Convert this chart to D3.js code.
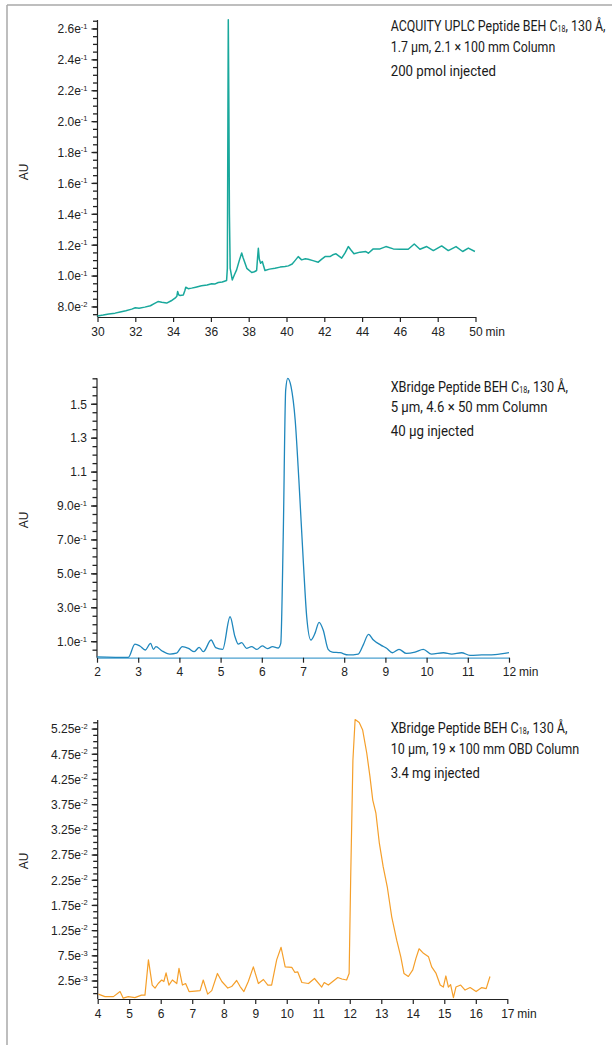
<!DOCTYPE html>
<html><head><meta charset="utf-8">
<script src="https://cdn.jsdelivr.net/npm/d3@7"></script>
<style>body{margin:0;background:#fff} svg{display:block}</style>
</head><body><svg id="c" width="612" height="1045"></svg>
<script>
// ---------- Panel 1: ACQUITY UPLC ----------
const p1Time = [30.0,30.3,30.6,30.93,31.2,31.5,31.81,32.0,32.2,32.5,32.8,33.0,33.2,33.4,33.66,33.9,34.1,34.2,34.24,34.3,34.37,34.54,34.62,34.67,34.8,34.98,35.2,35.5,35.8,36.04,36.2,36.39,36.6,36.83,36.87,36.9,36.92,36.95,36.98,37.02,37.13,37.25,37.36,37.5,37.63,37.7,37.9,38.16,38.3,38.42,38.47,38.51,38.56,38.63,38.72,38.86,39.1,39.39,39.66,39.92,40.1,40.3,40.45,40.62,40.8,41.0,41.15,41.4,41.68,41.85,42.04,42.3,42.45,42.62,42.92,43.1,43.27,43.4,43.57,43.89,44.2,44.33,44.59,44.95,45.26,45.65,46.0,46.44,46.76,47.06,47.42,47.77,48.21,48.56,48.97,49.32,49.62,49.97];
const p1Abs = [0.0742,0.0748,0.0755,0.0760,0.0768,0.0776,0.0786,0.0795,0.0792,0.0799,0.0808,0.0822,0.0835,0.0830,0.0825,0.0840,0.0857,0.0870,0.0900,0.0878,0.0874,0.0878,0.0905,0.0928,0.0918,0.0922,0.0928,0.0937,0.0942,0.0950,0.0948,0.0958,0.0962,0.0971,0.105,0.200,0.266,0.210,0.140,0.105,0.0975,0.101,0.104,0.110,0.115,0.112,0.105,0.1023,0.1028,0.1036,0.112,0.118,0.111,0.1083,0.1094,0.1036,0.1045,0.1051,0.1058,0.1062,0.1066,0.1078,0.110,0.1126,0.1105,0.1112,0.1109,0.1100,0.109,0.1108,0.1126,0.1126,0.1138,0.1144,0.1116,0.1150,0.1191,0.1170,0.1144,0.1155,0.1159,0.1148,0.1176,0.1176,0.1191,0.1176,0.1174,0.1174,0.1208,0.1174,0.1191,0.1165,0.1195,0.1165,0.1191,0.1159,0.1181,0.1159];
const p1XTicks = [30,32,34,36,38,40,42,44,46,48,50];
const p1YTicks = [0.08,0.10,0.12,0.14,0.16,0.18,0.20,0.22,0.24,0.26];
const p1YLabels = ["8.0e-2","1.0e-1","1.2e-1","1.4e-1","1.6e-1","1.8e-1","2.0e-1","2.2e-1","2.4e-1","2.6e-1"];
const p1Text = ["ACQUITY UPLC Peptide BEH C|18|, 130 Å,","1.7 µm, 2.1 × 100 mm Column","200 pmol injected"];

// ---------- Panel 2: XBridge 4.6 x 50 ----------
const p2Time = [2.0,2.76,2.92,3.04,3.17,3.30,3.37,3.43,3.57,3.77,3.93,4.07,4.22,4.36,4.48,4.58,4.77,4.88,5.05,5.23,5.35,5.43,5.51,5.63,5.75,5.88,6.01,6.14,6.26,6.40,6.46,6.52,6.58,6.63,6.71,6.81,6.90,7.01,7.09,7.19,7.29,7.39,7.49,7.61,7.71,7.90,8.10,8.34,8.46,8.59,8.71,8.89,9.03,9.17,9.33,9.51,9.72,9.92,10.12,10.41,10.61,10.85,11.05,11.34,11.66,12.0];
const p2Abs = [0.011,0.008,0.086,0.075,0.051,0.090,0.055,0.071,0.047,0.027,0.032,0.071,0.061,0.041,0.067,0.041,0.110,0.065,0.055,0.247,0.129,0.086,0.094,0.061,0.071,0.055,0.075,0.059,0.071,0.063,0.090,0.719,1.584,1.653,1.604,1.407,1.053,0.562,0.247,0.110,0.149,0.214,0.169,0.055,0.039,0.035,0.022,0.027,0.080,0.143,0.110,0.080,0.061,0.035,0.055,0.031,0.039,0.055,0.027,0.035,0.027,0.035,0.020,0.022,0.024,0.035];
const p2XTicks = [2,3,4,5,6,7,8,9,10,11,12];
const p2YTicks = [0.1,0.3,0.5,0.7,0.9,1.1,1.3,1.5];
const p2YLabels = ["1.0e-1","3.0e-1","5.0e-1","7.0e-1","9.0e-1","1.1","1.3","1.5"];
const p2Text = ["XBridge Peptide BEH C|18|, 130 Å,","5 µm, 4.6 × 50 mm Column","40 µg injected"];

// ---------- Panel 3: XBridge 19 x 100 OBD ----------
const p3Time = [4.02,4.23,4.5,4.71,4.81,4.97,5.18,5.39,5.50,5.61,5.73,5.82,5.92,6.03,6.10,6.17,6.26,6.37,6.51,6.58,6.69,6.79,6.90,7.09,7.25,7.35,7.49,7.62,7.80,7.94,8.13,8.25,8.41,8.52,8.64,8.78,8.94,9.10,9.26,9.40,9.52,9.68,9.82,9.95,10.16,10.26,10.35,10.48,10.69,10.88,11.11,11.19,11.32,11.48,11.62,11.75,11.90,11.98,12.03,12.10,12.17,12.30,12.41,12.54,12.64,12.73,12.83,12.94,13.06,13.19,13.33,13.49,13.62,13.72,13.86,14.0,14.10,14.20,14.34,14.50,14.60,14.74,14.87,14.97,15.05,15.13,15.20,15.29,15.37,15.52,15.66,15.82,16.01,16.19,16.33,16.45];
const p3Abs = [-0.0001,-0.0006,-0.0006,0.0004,-0.0009,-0.0006,-0.0008,-0.0003,-0.0003,0.0067,0.0017,0.0011,0.0020,0.0027,0.0024,0.0041,0.0017,0.0027,0.0020,0.0050,0.0017,0.0020,0.0004,0.0005,0.0006,0.0027,-0.0001,0.0006,0.0040,0.0024,0.0011,0.0014,0.0026,0.0014,0.0004,0.0024,0.0053,0.0020,0.0028,0.0017,0.0017,0.0067,0.0092,0.0053,0.0052,0.0042,0.0043,0.0022,0.0020,0.0030,0.0013,0.0022,0.0017,0.0025,0.0032,0.0029,0.0027,0.0040,0.0232,0.0463,0.0544,0.0538,0.0523,0.0477,0.0431,0.0384,0.0358,0.0298,0.0252,0.0212,0.0153,0.0106,0.0073,0.0040,0.0034,0.0047,0.0070,0.0089,0.0080,0.0073,0.0053,0.0040,0.0017,0.0013,0.0035,0.0013,0.0018,-0.0008,0.0013,0.0017,0.0007,0.0012,0.0004,0.0012,0.0010,0.0034];
const p3XTicks = [4,5,6,7,8,9,10,11,12,13,14,15,16,17];
const p3YTicks = [0.0025,0.0075,0.0125,0.0175,0.0225,0.0275,0.0325,0.0375,0.0425,0.0475,0.0525];
const p3YLabels = ["2.5e-3","7.5e-3","1.25e-2","1.75e-2","2.25e-2","2.75e-2","3.25e-2","3.75e-2","4.25e-2","4.75e-2","5.25e-2"];
const p3Text = ["XBridge Peptide BEH C|18|, 130 Å,","10 µm, 19 × 100 mm OBD Column","3.4 mg injected"];

// ---------- layout / style ----------
const panels = [
  {time:p1Time, abs:p1Abs, xt:p1XTicks, yt:p1YTicks, yl:p1YLabels, text:p1Text,
   xDom:[30,50], xR:[97.5,475.5], yDom:[0.0735,0.2658], yR:[317,20], minorStep:0.005,
   color:"#19a89c", lw:1.5, curve:d3.curveLinear, xAxisColor:"#222",
   textW:[215,164.7,105.3], textY:[30.5,52,76], auY:172},
  {time:p2Time, abs:p2Abs, xt:p2XTicks, yt:p2YTicks, yl:p2YLabels, text:p2Text,
   xDom:[2,12], xR:[97,509], yDom:[0.0057,1.653], yR:[657.7,378.3], minorStep:0.05,
   color:"#1f87bd", lw:1.3, curve:d3.curveMonotoneX, xAxisColor:"#4aa0cf",
   textW:[177.6,157,83.3], textY:[391.7,412.3,436], auY:520},
  {time:p3Time, abs:p3Abs, xt:p3XTicks, yt:p3YTicks, yl:p3YLabels, text:p3Text,
   xDom:[4,17], xR:[97.7,507.3], yDom:[-0.00107,0.0543], yR:[999,720], minorStep:0.00125,
   color:"#f59f2a", lw:1.2, curve:d3.curveLinear, xAxisColor:"#222",
   textW:[177,188.7,89.3], textY:[733.3,754,778.3], auY:861}
];

const svg = d3.select("#c");
const tickFont = "'Liberation Sans', Arial, sans-serif";
const FS = 12;

// frame
svg.append("line").attr("x1",7).attr("y1",5).attr("x2",612).attr("y2",5).attr("stroke","#a8a8a8").attr("stroke-width",1.5);
svg.append("line").attr("x1",7).attr("y1",5).attr("x2",7).attr("y2",1045).attr("stroke","#a8a8a8").attr("stroke-width",1.5);

panels.forEach(p => {
  const x = d3.scaleLinear().domain(p.xDom).range(p.xR);
  const y = d3.scaleLinear().domain(p.yDom).range(p.yR);
  const g = svg.append("g");
  const x0 = p.xR[0];

  // y axis line
  g.append("line").attr("x1",x0).attr("x2",x0).attr("y1",p.yR[0]).attr("y2",p.yR[1])
    .attr("stroke","#222").attr("stroke-width",1.2);

  // minor y ticks
  const minor = [];
  const start = Math.ceil(p.yDom[0]/p.minorStep - 1e-9);
  const end = Math.floor(p.yDom[1]/p.minorStep + 1e-9);
  for (let k=start;k<=end;k++) minor.push(k*p.minorStep);
  g.append("g").selectAll("line").data(minor).join("line")
    .attr("x1",x0-4.5).attr("x2",x0)
    .attr("y1",d=>y(d)).attr("y2",d=>y(d))
    .attr("stroke","#222").attr("stroke-width",1.3);

  // major y ticks with labels
  const gY = g.append("g");
  gY.selectAll("line").data(p.yt).join("line")
    .attr("x1",x0-6).attr("x2",x0)
    .attr("y1",d=>y(d)).attr("y2",d=>y(d))
    .attr("stroke","#222").attr("stroke-width",1.3);
  gY.selectAll("text").data(p.yt).join("text")
    .attr("x",x0-10).attr("y",d=>y(d)).attr("dy","0.36em")
    .attr("text-anchor","end").attr("font-family",tickFont).attr("font-size",FS).attr("fill","#222")
    .each(function(d,i){
      const lab = p.yl[i];
      const m = lab.match(/^(.*e)(-\d+)$/);
      const t = d3.select(this);
      if (m) {
        t.append("tspan").text(m[1]);
        t.append("tspan").attr("font-size",7.5).attr("dy",-4.5).text(m[2]);
      } else t.text(lab);
    });

  // x axis
  const gX = g.append("g").attr("transform",`translate(0,${p.yR[0]})`)
    .call(d3.axisBottom(x).tickValues(p.xt).tickSize(5).tickSizeOuter(0).tickPadding(5).tickFormat(d3.format("d")));
  gX.select(".domain").attr("stroke",p.xAxisColor).attr("stroke-width",1.2);
  gX.selectAll(".tick line").attr("stroke","#222").attr("stroke-width",1.2);
  gX.selectAll(".tick text").attr("font-family",tickFont).attr("font-size",FS).attr("fill","#222");
  g.append("text").attr("x",p.xR[1]+10).attr("y",p.yR[0]+10).attr("dy","0.71em")
    .attr("font-family",tickFont).attr("font-size",FS).attr("fill","#222").text("min");

  // AU label
  g.append("text").attr("transform",`translate(28,${p.auY}) rotate(-90)`)
    .attr("text-anchor","middle").attr("font-family",tickFont).attr("font-size",FS).attr("fill","#222").text("AU");

  // trace
  const pts = p.time.map((t,i)=>[t,p.abs[i]]);
  g.append("path").datum(pts)
    .attr("fill","none").attr("stroke",p.color).attr("stroke-width",p.lw).attr("stroke-linejoin","round")
    .attr("d", d3.line().x(d=>x(d[0])).y(d=>y(d[1])).curve(p.curve));

  // annotation
  p.text.forEach((line,i)=>{
    const tg = g.append("g").attr("transform",`translate(390.7,${p.textY[i]})`);
    const t = tg.append("text").attr("font-family","Roboto, 'Noto Sans', sans-serif").attr("font-size",15).attr("fill","#1a1a1a");
    const parts = line.split("|");
    parts.forEach((s,j)=>{
      if (j===1) t.append("tspan").attr("font-size",8.5).attr("dy",1).text(s);
      else if (j===2) t.append("tspan").attr("dy",-1).text(s);
      else t.append("tspan").text(s);
    });
    const w = t.node().getComputedTextLength();
    t.attr("transform",`scale(${p.textW[i]/w},1)`);
  });
});
</script></body></html>
